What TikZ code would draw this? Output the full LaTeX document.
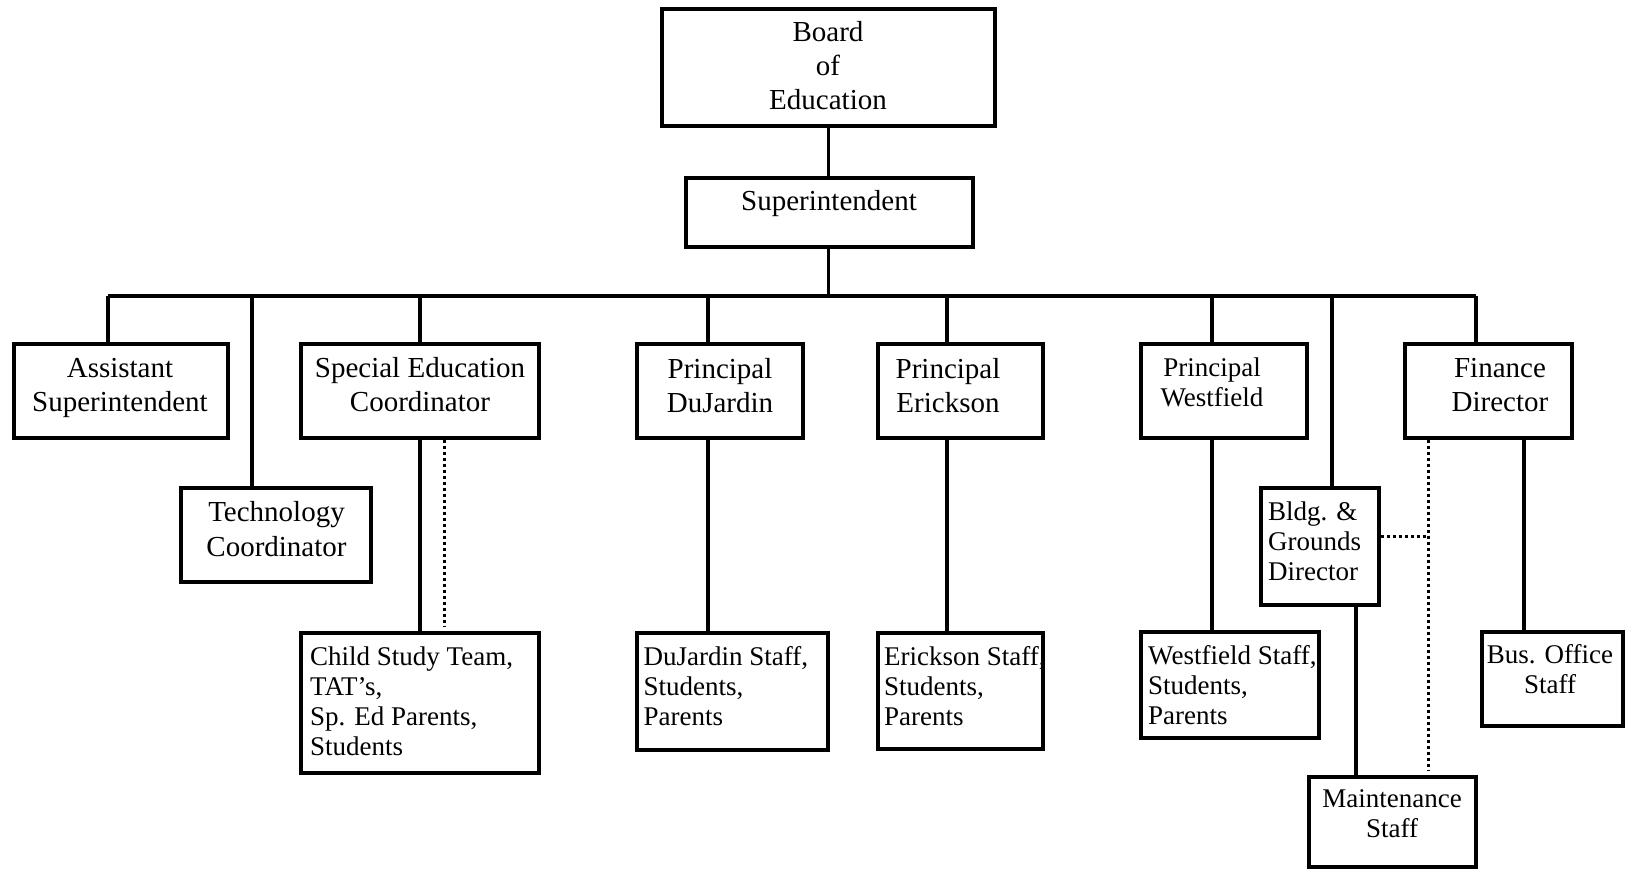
\documentclass[tikz,border=0pt]{standalone}
\usepackage{fontspec}
\setmainfont{Liberation Serif}
\newcommand\orgbox[5]{\node[boxst, minimum width={#4-#2}, minimum height={#5-#3}] (#1) at ({(#2+#4)/2},{(#3+#5)/2}) {};}
\begin{document}
\begin{tikzpicture}[x=1pt,y=-1pt,
  boxst/.style={draw, line width=3.2pt, inner sep=0pt, rectangle},
  bigt/.style={font=\fontsize{29}{34}\selectfont, inner sep=0pt, align=center},
  smallt/.style={font=\fontsize{27}{30}\selectfont, inner sep=0pt},
  conn/.style={line width=3.2pt},
  dotl/.style={line width=3pt, dash pattern=on 3pt off 3pt}
]
\useasboundingbox (0,0) rectangle (1625,869);
% boxes
\orgbox{board}{662}{9}{995}{126}
\orgbox{sup}{686}{178}{973}{247}
\orgbox{asst}{14}{344}{228}{438}
\orgbox{tech}{181}{488}{371}{582}
\orgbox{sped}{301}{344}{539}{438}
\orgbox{pdj}{637}{344}{803}{438}
\orgbox{per}{878}{344}{1043}{438}
\orgbox{pwf}{1141}{344}{1307}{438}
\orgbox{fin}{1405}{344}{1572}{438}
\orgbox{bldg}{1261}{488}{1379}{605}
\orgbox{cst}{301}{633}{539}{773}
\orgbox{djs}{637}{633}{828}{750}
\orgbox{ers}{878}{633}{1043}{749}
\orgbox{wfs}{1141}{632}{1319}{738}
\orgbox{bus}{1482}{632}{1623}{726}
\orgbox{maint}{1309}{777}{1476}{867}
% texts (anchor base = baseline of the last line)
\node[bigt, anchor=base] (tboard) at (828,110) {Board\\of\\Education};
\node[bigt, anchor=base] (tsup) at (829,210.5) {Superintendent};
\node[bigt, anchor=base] (tasst) at (120,411) {Assistant\\Superintendent};
\node[bigt, anchor=base] (tsped) at (420,411) {Special Education\\Coordinator};
\node[bigt, anchor=base] (ttech) at (276.5,556) {Technology\\[1pt]Coordinator};
\node[bigt, anchor=base] (tpdj) at (720,412) {Principal\\DuJardin};
\node[bigt, anchor=base] (tper) at (948,412) {Principal\\Erickson};
\node[smallt, align=center, anchor=base] (tpwf) at (1212,406) {Principal\\Westfield};
\node[bigt, anchor=base] (tfin) at (1500,411) {Finance\\Director};
\node[smallt, align=left, anchor=base west] (tbldg) at (1268,580) {Bldg. \&\\Grounds\\Director};
\node[smallt, align=left, anchor=base west] (tcst) at (310,755) {Child Study Team,\\TAT’s,\\Sp. Ed Parents,\\Students};
\node[smallt, align=left, anchor=base west] (tdjs) at (643.5,725) {DuJardin Staff,\\Students,\\Parents};
\node[smallt, align=left, anchor=base west] (ters) at (884,725) {Erickson Staff,\\Students,\\Parents};
\node[smallt, align=left, anchor=base west] (twfs) at (1148,724) {Westfield Staff,\\Students,\\Parents};
\node[smallt, align=center, anchor=base] (tbus) at (1550,693) {Bus. Office\\Staff};
\node[smallt, align=center, anchor=base] (tmaint) at (1392,837) {Maintenance\\Staff};
% bus coordinates
\coordinate (dA) at (108,296);
\coordinate (dT) at (252,296);
\coordinate (dS) at (420,296);
\coordinate (dD) at (708,296);
\coordinate (dE) at (947,296);
\coordinate (dW) at (1212,296);
\coordinate (dB) at (1332,296);
\coordinate (dF) at (1476,296);
\coordinate (fS) at (1524,0);
\coordinate (bM) at (1356,0);
\coordinate (sD) at (444.6,0);
\coordinate (sDe) at (444.6,626);
\coordinate (fD) at (1428,0);
\coordinate (fDe) at (1428,770);
\coordinate (bD) at (0,536);
% connectors
\draw[conn] (board.south) -- (board.south |- sup.north);
\draw[conn] (board.south |- sup.south) -- (board.south |- dA);
\draw[conn] (dA) -- (dF);
\draw[conn] (dA) -- (dA |- asst.north);
\draw[conn] (dT) -- (dT |- tech.north);
\draw[conn] (dS) -- (dS |- sped.north);
\draw[conn] (dD) -- (dD |- pdj.north);
\draw[conn] (dE) -- (dE |- per.north);
\draw[conn] (dW) -- (dW |- pwf.north);
\draw[conn] (dB) -- (dB |- bldg.north);
\draw[conn] (dF) -- (dF |- fin.north);
\draw[conn] (dS |- sped.south) -- (dS |- cst.north);
\draw[dotl] (sD |- sped.south) -- (sDe);
\draw[conn] (dD |- pdj.south) -- (dD |- djs.north);
\draw[conn] (dE |- per.south) -- (dE |- ers.north);
\draw[conn] (dW |- pwf.south) -- (dW |- wfs.north);
\draw[conn] (fS |- fin.south) -- (fS |- bus.north);
\draw[conn] (bM |- bldg.south) -- (bM |- maint.north);
\draw[dotl] (fD |- fin.south) -- (fDe);
\draw[dotl] (bldg.east |- bD) -- (fD |- bD);
\end{tikzpicture}
\end{document}
